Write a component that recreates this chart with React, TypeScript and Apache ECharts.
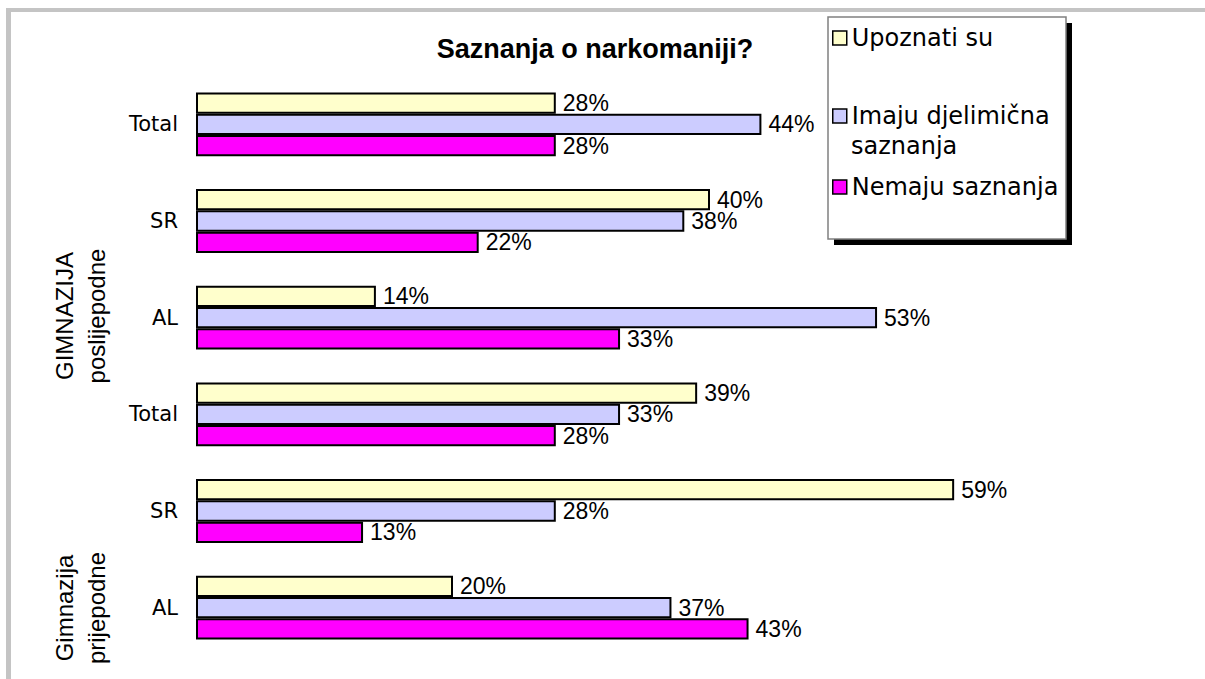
import React, { useEffect, useRef } from 'react';
import * as echarts from 'echarts';

const chartTitle = 'Saznanja o narkomaniji?';
const categoryKeys = ['pri-AL', 'pri-SR', 'pri-Total', 'posl-AL', 'posl-SR', 'posl-Total'];
const categoryLabels = ['AL', 'SR', 'Total', 'AL', 'SR', 'Total'];
const seriesNames = ['Upoznati su', 'Imaju djelimična saznanja', 'Nemaju saznanja'];
const upoznati = [20, 59, 39, 14, 40, 28];
const imaju = [37, 28, 33, 53, 38, 44];
const nemaju = [43, 13, 28, 33, 22, 28];
const groupLabels = ['GIMNAZIJA\nposlijepodne', 'Gimnazija\nprijepodne'];
const colors = ['#FFFFCC', '#CCCCFF', '#FF00FF'];

const ARIAL = '"Liberation Sans", Arial, sans-serif';
const DEJAVU = '"DejaVu Sans", sans-serif';

export default function App() {
  const ref = useRef<HTMLDivElement>(null);
  useEffect(() => {
    if (!ref.current) return;
    const chart = echarts.init(ref.current, null, { renderer: 'svg' });
    const values = [upoznati, imaju, nemaju];
    const series = seriesNames.map((name, i) => ({
      name,
      type: 'bar',
      data: values[i],
      barGap: '0%',
      barCategoryGap: '34%',
      itemStyle: { color: colors[i], borderColor: '#000', borderWidth: 2 },
      label: {
        show: true,
        position: 'right',
        distance: 7,
        formatter: '{c}%',
        color: '#000',
        fontSize: 23,
        fontFamily: ARIAL,
      },
    }));
    const legendTops = [20, 98, 169];
    const legends = seriesNames.map((name, i) => ({
      data: [name],
      left: 827,
      top: legendTops[i],
      orient: 'vertical',
      icon: 'rect',
      itemWidth: 14,
      itemHeight: 14,
      itemGap: 0,
      formatter: (n: string) => (n === 'Imaju djelimična saznanja' ? 'Imaju djelimična' : n),
      itemStyle: { color: colors[i], borderColor: '#000', borderWidth: 1.5 },
      textStyle: { fontSize: 24, fontFamily: DEJAVU, color: '#000', lineHeight: 26 },
      z: 10,
    }));
    chart.setOption({
      animation: false,
      backgroundColor: '#fff',
      title: {
        text: chartTitle,
        left: 590,
        top: 30,
        textAlign: 'center',
        textStyle: { fontSize: 27, fontWeight: 'bold', fontFamily: ARIAL, color: '#000' },
      },
      legend: legends,
      grid: { left: 196, top: 76, width: 899.5, height: 580 },
      xAxis: {
        type: 'value',
        min: 0,
        max: 70,
        show: false,
        splitLine: { show: false },
      },
      yAxis: {
        type: 'category',
        data: categoryKeys,
        axisLine: { show: false },
        axisTick: { show: false },
        axisLabel: {
          margin: 18,
          fontSize: 21,
          fontFamily: DEJAVU,
          color: '#000',
          formatter: (_v: string, idx: number) => categoryLabels[idx],
        },
      },
      series,
      graphic: [
        { type: 'rect', shape: { x: 6, y: 8, width: 5, height: 671 }, style: { fill: '#c4c4c4' }, z: 0 },
        { type: 'rect', shape: { x: 6, y: 8, width: 1199, height: 4 }, style: { fill: '#c4c4c4' }, z: 0 },
        { type: 'rect', shape: { x: 834, y: 23, width: 238, height: 222 }, style: { fill: '#000' }, z: 1 },
        { type: 'rect', shape: { x: 828, y: 17, width: 238, height: 222 }, style: { fill: '#fff', stroke: '#808080', lineWidth: 1.5 }, z: 2 },
        {
          type: 'text',
          x: 851,
          y: 146,
          style: { text: 'saznanja', font: `24px ${DEJAVU}`, fill: '#000', verticalAlign: 'middle', align: 'left' },
          z: 11,
        },
        {
          type: 'text',
          x: 80,
          y: 316,
          rotation: Math.PI / 2,
          style: { text: groupLabels[0], font: `24px ${ARIAL}`, fill: '#000', align: 'center', verticalAlign: 'middle', lineHeight: 32 },
          z: 5,
        },
        {
          type: 'text',
          x: 80,
          y: 608,
          rotation: Math.PI / 2,
          style: { text: groupLabels[1], font: `24px ${ARIAL}`, fill: '#000', align: 'center', verticalAlign: 'middle', lineHeight: 32 },
          z: 5,
        },
      ],
    });
    return () => chart.dispose();
  }, []);
  return <div ref={ref} style={{ position: 'fixed', left: 0, top: 0, width: 1205, height: 679 }} />;
}
